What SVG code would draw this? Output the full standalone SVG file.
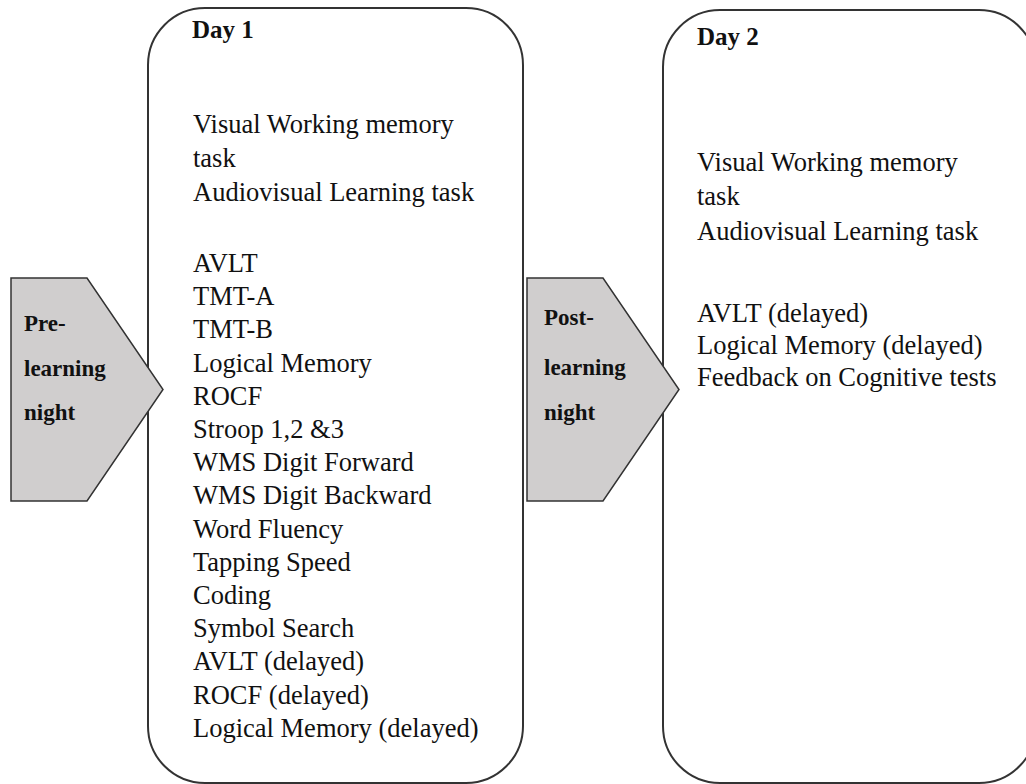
<svg xmlns="http://www.w3.org/2000/svg" width="1026" height="784" viewBox="0 0 1026 784">
  <style>
    .box { fill: #ffffff; stroke: #333333; stroke-width: 2; }
    .night { fill: #d0cece; stroke: #333333; stroke-width: 1.5; stroke-linejoin: miter; }
    text { font-family: "Liberation Serif", "DejaVu Serif", serif; fill: #111111; }
    .item { font-size: 26.5px; font-weight: normal; }
    .head { font-size: 25px; font-weight: bold; }
    .tag { font-size: 23px; font-weight: bold; }
  </style>
  <rect width="1026" height="784" fill="#ffffff"/>

  <!-- Day 1 session -->
  <g id="day1">
    <rect class="box" x="148" y="8" width="375" height="775" rx="57" ry="57"/>
    <text class="head" x="192" y="38">Day 1</text>
    <g class="item">
      <text x="193" y="133">Visual Working memory</text>
      <text x="193" y="167">task</text>
      <text x="193" y="201">Audiovisual Learning task</text>
      <text x="193" y="272">AVLT</text>
      <text x="193" y="305.2">TMT-A</text>
      <text x="193" y="338.4">TMT-B</text>
      <text x="193" y="371.6">Logical Memory</text>
      <text x="193" y="404.8">ROCF</text>
      <text x="193" y="438">Stroop 1,2 &amp;3</text>
      <text x="193" y="471.2">WMS Digit Forward</text>
      <text x="193" y="504.4">WMS Digit Backward</text>
      <text x="193" y="537.6">Word Fluency</text>
      <text x="193" y="570.8">Tapping Speed</text>
      <text x="193" y="604">Coding</text>
      <text x="193" y="637.2">Symbol Search</text>
      <text x="193" y="670.4">AVLT (delayed)</text>
      <text x="193" y="703.6">ROCF (delayed)</text>
      <text x="193" y="737">Logical Memory (delayed)</text>
    </g>
  </g>

  <!-- Day 2 session -->
  <g id="day2">
    <rect class="box" x="663" y="10" width="373" height="773" rx="57" ry="57"/>
    <text class="head" x="697" y="45">Day 2</text>
    <g class="item">
      <text x="697" y="171">Visual Working memory</text>
      <text x="697" y="205">task</text>
      <text x="697" y="240">Audiovisual Learning task</text>
      <text x="697" y="322">AVLT (delayed)</text>
      <text x="697" y="354">Logical Memory (delayed)</text>
      <text x="697" y="386">Feedback on Cognitive tests</text>
    </g>
  </g>

  <!-- night arrows -->
  <g id="connectors">
    <g id="pre-learning-night">
      <polygon class="night" points="11,278 87,278 163,389.5 87,501 11,501"/>
      <text class="tag" x="24" y="331">Pre-</text>
      <text class="tag" x="24" y="376">learning</text>
      <text class="tag" x="24" y="420">night</text>
    </g>
    <g id="post-learning-night">
      <polygon class="night" points="527,278 603,278 679,389.5 603,501 527,501"/>
      <text class="tag" x="544" y="325">Post-</text>
      <text class="tag" x="544" y="375">learning</text>
      <text class="tag" x="544" y="420">night</text>
    </g>
  </g>
</svg>
